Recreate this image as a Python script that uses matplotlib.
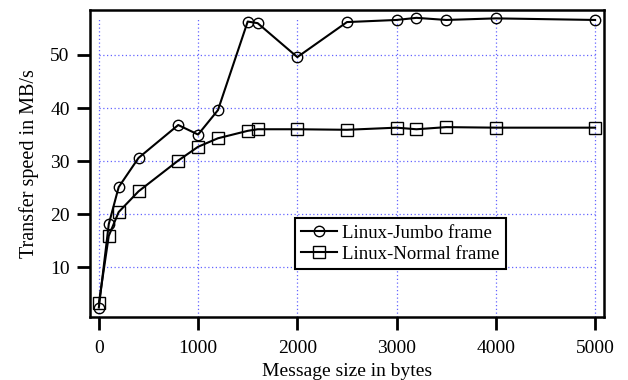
import matplotlib
matplotlib.use("Agg")
import matplotlib.pyplot as plt

sizes = [0, 100, 200, 400, 800, 1000, 1200, 1500, 1600, 2000, 2500, 3000, 3200, 3500, 4000, 5000]
jumbo = [2.4, 18.1, 25.1, 30.6, 36.8, 35.0, 39.6, 56.3, 56.0, 49.6, 56.2, 56.6, 57.0, 56.6, 56.9, 56.6]
normal = [3.2, 15.9, 20.4, 24.3, 30.1, 32.7, 34.3, 35.7, 36.0, 36.0, 35.9, 36.3, 36.0, 36.4, 36.3, 36.3]
xticks = [0, 1000, 2000, 3000, 4000, 5000]
yticks = [10, 20, 30, 40, 50]

plt.rcParams['font.family'] = ['Liberation Serif', 'DejaVu Serif']
plt.rcParams['font.size'] = 14

fig = plt.figure(figsize=(6.28, 3.8), dpi=100)
ax = fig.add_axes([0.143, 0.167, 0.818, 0.807])

ax.set_xlim(-91, 5085)
ax.set_ylim(0.7, 58.5)

grid_kw = dict(color='#6464ff', linestyle=(0, (1, 2)), linewidth=0.9, zorder=0)
ax.vlines(xticks, 0.7, max(jumbo), **grid_kw)
ax.hlines(yticks, min(sizes), max(sizes), **grid_kw)

ax.plot(sizes, jumbo, color='black', linewidth=1.5, marker='o', markersize=7.5,
        markerfacecolor='none', markeredgecolor='black', markeredgewidth=1.0,
        label='Linux-Jumbo frame', zorder=3)
ax.plot(sizes, normal, color='black', linewidth=1.5, marker='s', markersize=8,
        markerfacecolor='none', markeredgecolor='black', markeredgewidth=1.0,
        label='Linux-Normal frame', zorder=3)

ax.set_xticks(xticks)
ax.set_yticks(yticks)
ax.tick_params(direction='out', length=9.5, width=2, labelsize=14)
ax.tick_params(axis='x', pad=7.5)
ax.tick_params(axis='y', pad=5)
for s in ax.spines.values():
    s.set_linewidth(1.8)

ax.set_xlabel('Message size in bytes', fontsize=14, labelpad=4)
ax.set_ylabel('Transfer speed in MB/s', fontsize=14.5, labelpad=8)

leg = ax.legend(loc='lower left', bbox_to_anchor=(0.399, 0.154), fancybox=False,
                framealpha=1, edgecolor='black', fontsize=13.5, handlelength=1.9,
                borderpad=0.35, labelspacing=0.2, handletextpad=0.25, borderaxespad=0)
leg.get_frame().set_linewidth(1.5)

fig.savefig('out.png', dpi=100)
